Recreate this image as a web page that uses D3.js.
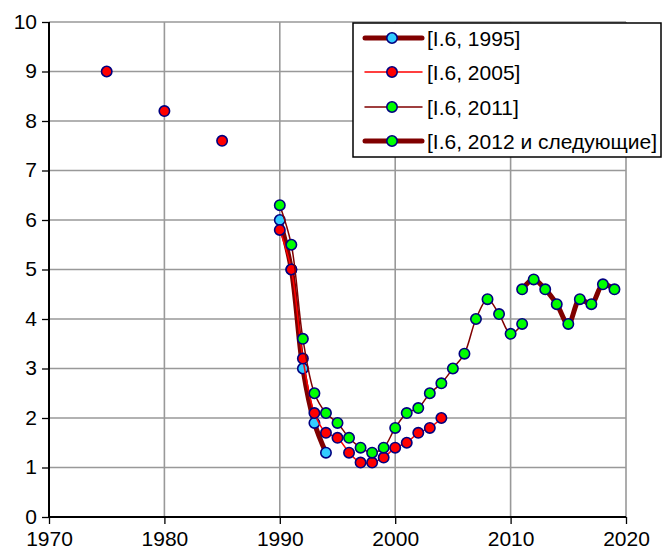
<!DOCTYPE html>
<html><head><meta charset="utf-8">
<script src="https://cdn.jsdelivr.net/npm/d3@7"></script>
<style>body{margin:0;background:#fff}svg{display:block}text{font-family:"Liberation Sans",Arial,sans-serif}</style>
</head><body><svg id="c" width="665" height="552"></svg>
<script>
const xTicks = [1970,1980,1990,2000,2010,2020];
const yTicks = [0,1,2,3,4,5,6,7,8,9,10];
const legendLabels = ["[I.6, 1995]","[I.6, 2005]","[I.6, 2011]","[I.6, 2012 и следующие]"];
const years1995 = [1990,1991,1992,1993,1994];
const vals1995  = [6.0,5.0,3.0,1.9,1.3];
const years2005 = [1975,1980,1985,1990,1991,1992,1993,1994,1995,1996,1997,1998,1999,2000,2001,2002,2003,2004];
const vals2005  = [9.0,8.2,7.6,5.8,5.0,3.2,2.1,1.7,1.6,1.3,1.1,1.1,1.2,1.4,1.5,1.7,1.8,2.0];
const years2011 = [1990,1991,1992,1993,1994,1995,1996,1997,1998,1999,2000,2001,2002,2003,2004,2005,2006,2007,2008,2009,2010,2011];
const vals2011  = [6.3,5.5,3.6,2.5,2.1,1.9,1.6,1.4,1.3,1.4,1.8,2.1,2.2,2.5,2.7,3.0,3.3,4.0,4.4,4.1,3.7,3.9];
const years2012 = [2011,2012,2013,2014,2015,2016,2017,2018,2019];
const vals2012  = [4.6,4.8,4.6,4.3,3.9,4.4,4.3,4.7,4.6];

const svg = d3.select("#c");
const L=49,R=626,T=22,B=517;
const x = d3.scaleLinear().domain([1970,2020]).range([L,R]);
const y = d3.scaleLinear().domain([0,10]).range([B,T]);

// grid
const g = svg.append("g");
g.selectAll(".gy").data(yTicks.filter(v=>v>0)).join("line")
  .attr("x1",L).attr("x2",R).attr("y1",d=>y(d)).attr("y2",d=>y(d))
  .attr("stroke","#999").attr("stroke-width",1.6);
g.selectAll(".gx").data(xTicks.filter(v=>v>1970)).join("line")
  .attr("y1",T).attr("y2",B).attr("x1",d=>x(d)).attr("x2",d=>x(d))
  .attr("stroke","#999").attr("stroke-width",1.6);

// axes
const ax = svg.append("g").attr("transform",`translate(0,${B})`)
  .call(d3.axisBottom(x).tickValues(xTicks).tickFormat(d3.format("d")).tickSize(7).tickPadding(6));
const ay = svg.append("g").attr("transform",`translate(${L},0)`)
  .call(d3.axisLeft(y).tickValues(yTicks).tickSize(7).tickPadding(5));
[ax,ay].forEach(a=>{
  a.attr("font-size",21).attr("font-family","'Liberation Sans',Arial,sans-serif");
  a.select(".domain").attr("stroke","#000").attr("stroke-width",2);
  a.selectAll(".tick line").attr("stroke","#000").attr("stroke-width",1.3);
  a.selectAll(".tick text").attr("fill","#000").attr("font-size",21).style("font-size","21px");
});
ay.select(".domain").attr("d",`M0,${T}V${B}`);
ax.select(".domain").attr("d",`M${L},0H${R}`);
ax.selectAll(".tick text").attr("dy","0.78em");
ay.selectAll(".tick text").attr("dy","0.3em");

const series = [
  {years:years1995, vals:vals1995, line:"#800000", w:5, fill:"#33CCFF"},
  {years:years2005, vals:vals2005, line:"#FF0000", w:1.5, fill:"#FF0000", noLinkBefore:1990},
  {years:years2011, vals:vals2011, line:"#800000", w:1.5, fill:"#00FF00"},
  {years:years2012, vals:vals2012, line:"#800000", w:5, fill:"#00FF00"}
];
const line = d3.line().x(d=>x(d[0])).y(d=>y(d[1])).curve(d3.curveCatmullRom.alpha(0.5));
series.forEach(s=>{
  const pts = s.years.map((yr,i)=>[yr,s.vals[i]]);
  const linked = s.noLinkBefore ? pts.filter(p=>p[0]>=s.noLinkBefore) : pts;
  svg.append("path").attr("d",line(linked)).attr("fill","none")
    .attr("stroke",s.line).attr("stroke-width",s.w).attr("stroke-linejoin","round").attr("stroke-linecap","round");
  svg.append("g").selectAll("circle").data(pts).join("circle")
    .attr("cx",d=>x(d[0])).attr("cy",d=>y(d[1])).attr("r",5.2)
    .attr("fill",s.fill).attr("stroke","#000080").attr("stroke-width",1.6);
});

// legend
const lg = svg.append("g");
lg.append("rect").attr("x",353).attr("y",23).attr("width",308).attr("height",134)
  .attr("fill","#fff").attr("stroke","#000").attr("stroke-width",1.5);
const rowY = [38,72,107,141];
series.forEach((s,i)=>{
  lg.append("line").attr("x1",365).attr("x2",422).attr("y1",rowY[i]).attr("y2",rowY[i])
    .attr("stroke",s.line).attr("stroke-width",s.w).attr("stroke-linecap","round");
  lg.append("circle").attr("cx",392).attr("cy",rowY[i]).attr("r",5.2)
    .attr("fill",s.fill).attr("stroke","#000080").attr("stroke-width",1.6);
  lg.append("text").attr("x",427).attr("y",rowY[i]).attr("dy","0.36em")
    .style("font-size","21px").attr("fill","#000").text(legendLabels[i]);
});
</script></body></html>
